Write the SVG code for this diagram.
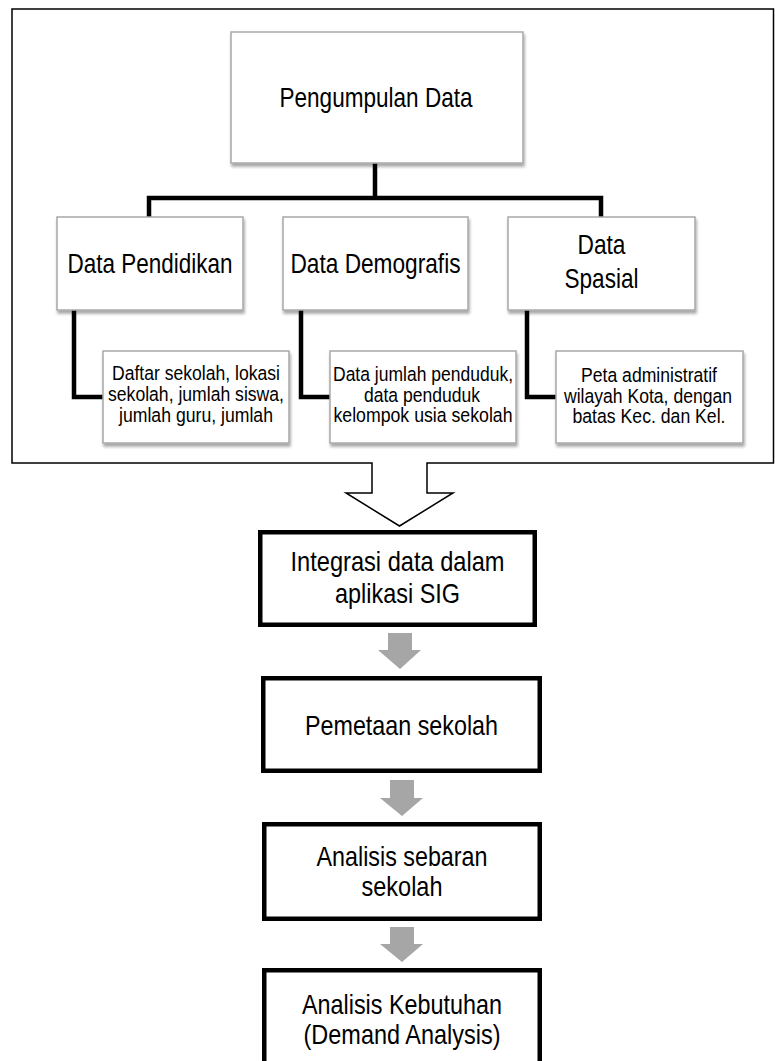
<svg xmlns="http://www.w3.org/2000/svg" width="775" height="1061" viewBox="0 0 775 1061">
<defs>
<filter id="sh" x="-10%" y="-10%" width="125%" height="130%">
<feDropShadow dx="1" dy="3" stdDeviation="1.8" flood-color="#000" flood-opacity="0.35"/>
</filter>
</defs>
<style>
.t{font-family:"Liberation Sans",Arial,sans-serif;fill:#000;text-anchor:middle}
.big{font-size:27.5px}
.sm{font-size:20.5px}
.fl{font-size:28.5px}
.sbox{fill:#fff;stroke:#a8a8a8;stroke-width:1.5;filter:url(#sh)}
.fbox{fill:#fff;stroke:#000;stroke-width:4.5}
.con{fill:none;stroke:#000;stroke-width:4.5;stroke-linejoin:miter}
.garrow{fill:#a6a6a6}
</style>
<rect width="775" height="1061" fill="#fff"/>
<g id="frame">
<path d="M12,9 H773.5 V463 H427 V493 H453 L399.5,526 L346,493 H372 V463 H12 Z" fill="#fff" stroke="#000" stroke-width="1.5"/>
</g>
<g id="connectors">
<path class="con" d="M375,163 V198"/>
<path class="con" d="M149,217 V198 H601 V217"/>
<path class="con" d="M74,310 V397 H103"/>
<path class="con" d="M301,310 V397 H330"/>
<path class="con" d="M527,310 V397 H556"/>
<polygon class="garrow" points="388,633 412,633 412,650 421,650 400,669 378,650 388,650"/>
<polygon class="garrow" points="390,780 414,780 414,798 423,798 402,816 380,798 390,798"/>
<polygon class="garrow" points="390,927 414,927 414,944 423,944 402,962 380,944 390,944"/>
</g>
<g id="n-pengumpulan">
<rect class="sbox" x="231" y="32" width="292" height="131"/>
<text class="t big" x="376" y="107" textLength="193" lengthAdjust="spacingAndGlyphs">Pengumpulan Data</text>
</g>
<g id="n-pendidikan">
<rect class="sbox" x="57" y="217" width="186" height="93"/>
<text class="t big" x="150" y="273" textLength="165" lengthAdjust="spacingAndGlyphs">Data Pendidikan</text>
</g>
<g id="n-demografis">
<rect class="sbox" x="283" y="217" width="185" height="93"/>
<text class="t big" x="375.5" y="273" textLength="170" lengthAdjust="spacingAndGlyphs">Data Demografis</text>
</g>
<g id="n-spasial">
<rect class="sbox" x="508" y="217" width="187" height="93"/>
<text class="t big" x="601.5" y="254" textLength="48" lengthAdjust="spacingAndGlyphs">Data</text>
<text class="t big" x="601.5" y="288" textLength="74" lengthAdjust="spacingAndGlyphs">Spasial</text>
</g>
<g id="n-daftar">
<rect class="sbox" x="103" y="351" width="186" height="92"/>
<text class="t sm" x="196" y="380" textLength="168" lengthAdjust="spacingAndGlyphs">Daftar sekolah, lokasi</text>
<text class="t sm" x="196" y="401" textLength="176" lengthAdjust="spacingAndGlyphs">sekolah, jumlah siswa,</text>
<text class="t sm" x="196" y="422" textLength="154" lengthAdjust="spacingAndGlyphs">jumlah guru, jumlah</text>
</g>
<g id="n-penduduk">
<rect class="sbox" x="330" y="351" width="186" height="92"/>
<text class="t sm" x="423" y="381" textLength="180" lengthAdjust="spacingAndGlyphs">Data jumlah penduduk,</text>
<text class="t sm" x="422" y="402" textLength="116" lengthAdjust="spacingAndGlyphs">data penduduk</text>
<text class="t sm" x="423" y="422" textLength="179" lengthAdjust="spacingAndGlyphs">kelompok usia sekolah</text>
</g>
<g id="n-peta">
<rect class="sbox" x="556" y="351" width="187" height="92"/>
<text class="t sm" x="649" y="382" textLength="136" lengthAdjust="spacingAndGlyphs">Peta administratif</text>
<text class="t sm" x="648" y="403" textLength="168" lengthAdjust="spacingAndGlyphs">wilayah Kota, dengan</text>
<text class="t sm" x="649" y="423" textLength="153" lengthAdjust="spacingAndGlyphs">batas Kec. dan Kel.</text>
</g>
<g id="n-integrasi">
<rect class="fbox" x="260.25" y="532.25" width="274.5" height="92.5"/>
<text class="t fl" x="397.5" y="571" textLength="214" lengthAdjust="spacingAndGlyphs">Integrasi data dalam</text>
<text class="t fl" x="397.5" y="603" textLength="125" lengthAdjust="spacingAndGlyphs">aplikasi SIG</text>
</g>
<g id="n-pemetaan">
<rect class="fbox" x="263.25" y="678.25" width="276.5" height="92.5"/>
<text class="t fl" x="401.5" y="735" textLength="193" lengthAdjust="spacingAndGlyphs">Pemetaan sekolah</text>
</g>
<g id="n-sebaran">
<rect class="fbox" x="264.25" y="824.25" width="275.5" height="94.5"/>
<text class="t fl" x="402" y="866" textLength="171" lengthAdjust="spacingAndGlyphs">Analisis sebaran</text>
<text class="t fl" x="402" y="896" textLength="81" lengthAdjust="spacingAndGlyphs">sekolah</text>
</g>
<g id="n-kebutuhan">
<rect class="fbox" x="264.25" y="970.25" width="275.5" height="96"/>
<text class="t fl" x="402" y="1014" textLength="200" lengthAdjust="spacingAndGlyphs">Analisis Kebutuhan</text>
<text class="t fl" x="402" y="1044" textLength="197" lengthAdjust="spacingAndGlyphs">(Demand Analysis)</text>
</g>
</svg>
